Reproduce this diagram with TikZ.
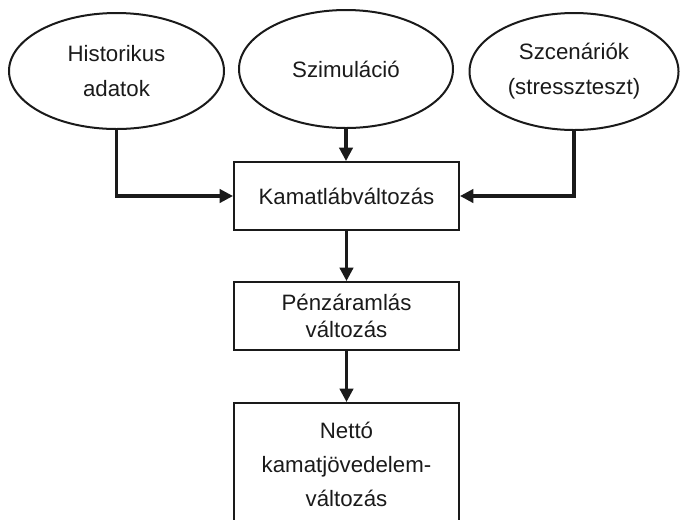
\documentclass[tikz,border=0pt]{standalone}
\usepackage{fontspec}
\setmainfont{Liberation Sans}
\usetikzlibrary{shapes.geometric,arrows.meta}
\definecolor{ink}{HTML}{1A1A1A}
\tikzset{
  oval/.style={ellipse,draw=ink,line width=1.5pt,inner sep=0pt,align=center,
    font=\fontsize{16.7}{26.25}\selectfont,text=ink},
  boxnode/.style={rectangle,draw=ink,line width=1.5pt,inner sep=0pt,align=center,
    minimum width=168.75pt,text=ink},
  conn/.style={draw=ink,line width=2.3pt,-{Triangle[length=10pt,width=10pt]}}
}
\begin{document}
\begin{tikzpicture}[x=0.75pt,y=-0.75pt]
\useasboundingbox (0,0) rectangle (680,519);
\clip (0,0) rectangle (680,519);
\node[oval,minimum width=161.25pt,minimum height=87pt] (hist) at (116.5,71) {Historikus\\adatok};
\node[oval,minimum width=160.5pt,minimum height=88.5pt] (sim) at (346,69) {Szimuláció};
\node[oval,minimum width=156.75pt,minimum height=87.75pt] (scen) at (574,71.5) {Szcenáriók\\(stresszteszt)};
\node[boxnode,minimum height=51pt,font=\fontsize{16.7}{20}\selectfont] (kam) at (346.5,196) {Kamatlábváltozás};
\node[boxnode,minimum height=51pt,font=\fontsize{16.7}{20.25}\selectfont] (penz) at (346.5,316) {Pénzáramlás\\változás};
\node[boxnode,minimum height=91.5pt,font=\fontsize{16.7}{25.5}\selectfont] (netto) at (346.5,464) {Nettó\\kamatjövedelem-\\változás};
\draw[conn] (hist.south) |- (kam.west);
\draw[conn] (sim.south) -- (sim.south |- kam.north);
\draw[conn] (scen.south) |- (kam.east);
\draw[conn] (kam.south) -- (penz.north);
\draw[conn] (penz.south) -- (netto.north);
\end{tikzpicture}
\end{document}
